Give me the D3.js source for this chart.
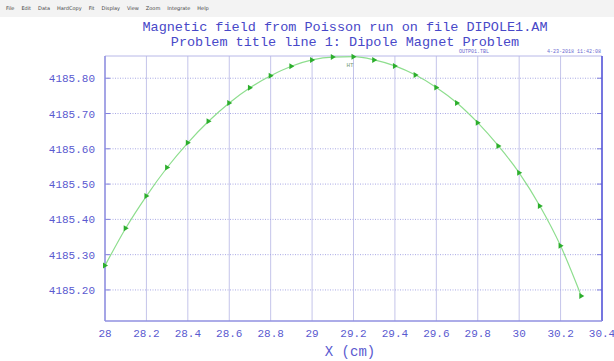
<html>
<script src="https://d3js.org/d3.v7.min.js"></script>
<body style="margin:0; background:#fff;">
<div id="chart_area"></div>
<script>
// data
let xs = [28.0, 28.1, 28.2, 28.3, 28.4, 28.5, 28.6, 28.7, 28.8, 28.9, 29.0, 29.1,
          29.2, 29.3, 29.4, 29.5, 29.6, 29.7, 29.8, 29.9, 30.0, 30.1, 30.2, 30.3];
let bvals = [4185.269, 4185.375, 4185.466, 4185.547, 4185.617, 4185.678, 4185.730, 4185.773,
             4185.807, 4185.834, 4185.852, 4185.860, 4185.861, 4185.852, 4185.835, 4185.809,
             4185.774, 4185.730, 4185.674, 4185.608, 4185.532, 4185.438, 4185.325, 4185.183];
let xTicks = [28, 28.2, 28.4, 28.6, 28.8, 29, 29.2, 29.4, 29.6, 29.8, 30, 30.2, 30.4];
let yTicks = [4185.20, 4185.30, 4185.40, 4185.50, 4185.60, 4185.70, 4185.80];
let menuItems = ["File", "Edit", "Data", "HardCopy", "Fit", "Display", "View", "Zoom", "Integrate", "Help"];
let titles = ["Magnetic field from Poisson run on file DIPOLE1.AM",
              "Problem title line 1: Dipole Magnet Problem"];

let width = 614, height = 361;
let plotL = 105, plotR = 602, plotT = 56, plotB = 321;
let mono = "'Liberation Mono', 'DejaVu Sans Mono', monospace";
let blue = "#5a5ad0";

let svg = d3.select("#chart_area").append("svg")
    .attr("width", width)
    .attr("height", height);

// menu bar
svg.append("rect").attr("x", 0).attr("y", 0).attr("width", width).attr("height", 17)
    .attr("fill", "#f3f3f3");
let mx = 6;
menuItems.forEach(m => {
    let t = svg.append("text").attr("x", mx).attr("y", 10)
        .style("font", "5px 'DejaVu Sans'").attr("fill", "#444").text(m);
    mx += t.node().getComputedTextLength() + 7;
});

// titles
svg.selectAll(".title")
    .data(titles)
    .join("text")
    .attr("class", "title")
    .attr("x", 345)
    .attr("y", (d, i) => 31 + i * 15)
    .attr("text-anchor", "middle")
    .style("font", "13.5px " + mono)
    .attr("fill", "#4848c8")
    .text(d => d);

svg.append("text").attr("x", 474).attr("y", 53).attr("text-anchor", "middle")
    .style("font", "5px " + mono).attr("fill", "#6a6ad0").text("OUTP01.TBL");
svg.append("text").attr("x", 601).attr("y", 53).attr("text-anchor", "end")
    .style("font", "5px " + mono).attr("fill", "#6a6ad0").text("4-23-2018   11:42:08");

let x = d3.scaleLinear().domain([28, 30.4]).range([plotL, plotR]);
let y = d3.scaleLinear().domain([4185.112, 4185.863]).range([plotB, plotT]);

// grid
svg.selectAll(".vgrid")
    .data(xTicks)
    .join("line")
    .attr("class", "vgrid")
    .attr("x1", d => x(d)).attr("x2", d => x(d))
    .attr("y1", plotT).attr("y2", plotB)
    .attr("stroke", "#c4c4ea").attr("stroke-width", 1);

svg.selectAll(".hgrid")
    .data(yTicks)
    .join("line")
    .attr("class", "hgrid")
    .attr("x1", plotL).attr("x2", plotR)
    .attr("y1", d => y(d)).attr("y2", d => y(d))
    .attr("stroke", "#a8a8e4").attr("stroke-width", 1)
    .attr("stroke-dasharray", "1,1.5");

// short tick marks on both sides
svg.selectAll(".ytickl")
    .data(yTicks)
    .join("line")
    .attr("class", "ytickl")
    .attr("x1", plotL).attr("x2", plotL + 5)
    .attr("y1", d => y(d)).attr("y2", d => y(d))
    .attr("stroke", "#8080dc");
svg.selectAll(".ytickr")
    .data(yTicks)
    .join("line")
    .attr("class", "ytickr")
    .attr("x1", plotR - 5).attr("x2", plotR)
    .attr("y1", d => y(d)).attr("y2", d => y(d))
    .attr("stroke", "#8080dc");

// frame
svg.append("line").attr("x1", plotL).attr("x2", plotR).attr("y1", plotT).attr("y2", plotT)
    .attr("stroke", "#b8b8e8");
svg.append("line").attr("x1", plotL).attr("x2", plotL).attr("y1", plotT).attr("y2", plotB)
    .attr("stroke", "#9090e0").attr("stroke-width", 1.5);
svg.append("line").attr("x1", plotR).attr("x2", plotR).attr("y1", plotT).attr("y2", plotB)
    .attr("stroke", "#5050d8").attr("stroke-width", 1.5);
svg.append("line").attr("x1", plotL).attr("x2", plotR).attr("y1", plotB).attr("y2", plotB)
    .attr("stroke", "#9090e0").attr("stroke-width", 1.5);

// tick labels
svg.selectAll(".xlab")
    .data(xTicks)
    .join("text")
    .attr("class", "xlab")
    .attr("x", d => x(d))
    .attr("y", 337)
    .attr("text-anchor", "middle")
    .style("font", "11px " + mono)
    .attr("fill", blue)
    .text(d => d3.format("~g")(d));

svg.selectAll(".ylab")
    .data(yTicks)
    .join("text")
    .attr("class", "ylab")
    .attr("x", 95)
    .attr("y", d => y(d) + 4)
    .attr("text-anchor", "end")
    .style("font", "11px " + mono)
    .attr("fill", blue)
    .text(d => d.toFixed(2));

svg.append("text").attr("x", 350).attr("y", 356).attr("text-anchor", "middle")
    .style("font", "14px " + mono).attr("fill", blue).text("X (cm)");

// curve
let pts = xs.map((d, i) => ({x: d, y: bvals[i]}));
let line = d3.line().x(d => x(d.x)).y(d => y(d.y)).curve(d3.curveMonotoneX);
svg.append("path").datum(pts)
    .attr("d", line)
    .attr("fill", "none")
    .attr("stroke", "#8ede8e")
    .attr("stroke-width", 1.2);

svg.selectAll(".marker")
    .data(pts)
    .join("path")
    .attr("class", "marker")
    .attr("d", "M-2,-3L3,0L-2,3Z")
    .attr("transform", d => `translate(${x(d.x)},${y(d.y)})`)
    .attr("fill", "#2cae2c");

svg.append("text").attr("x", 350).attr("y", 67).attr("text-anchor", "middle")
    .style("font", "6px " + mono).attr("fill", "#7a9a7a").text("HT");
</script>
</body>
</html>
